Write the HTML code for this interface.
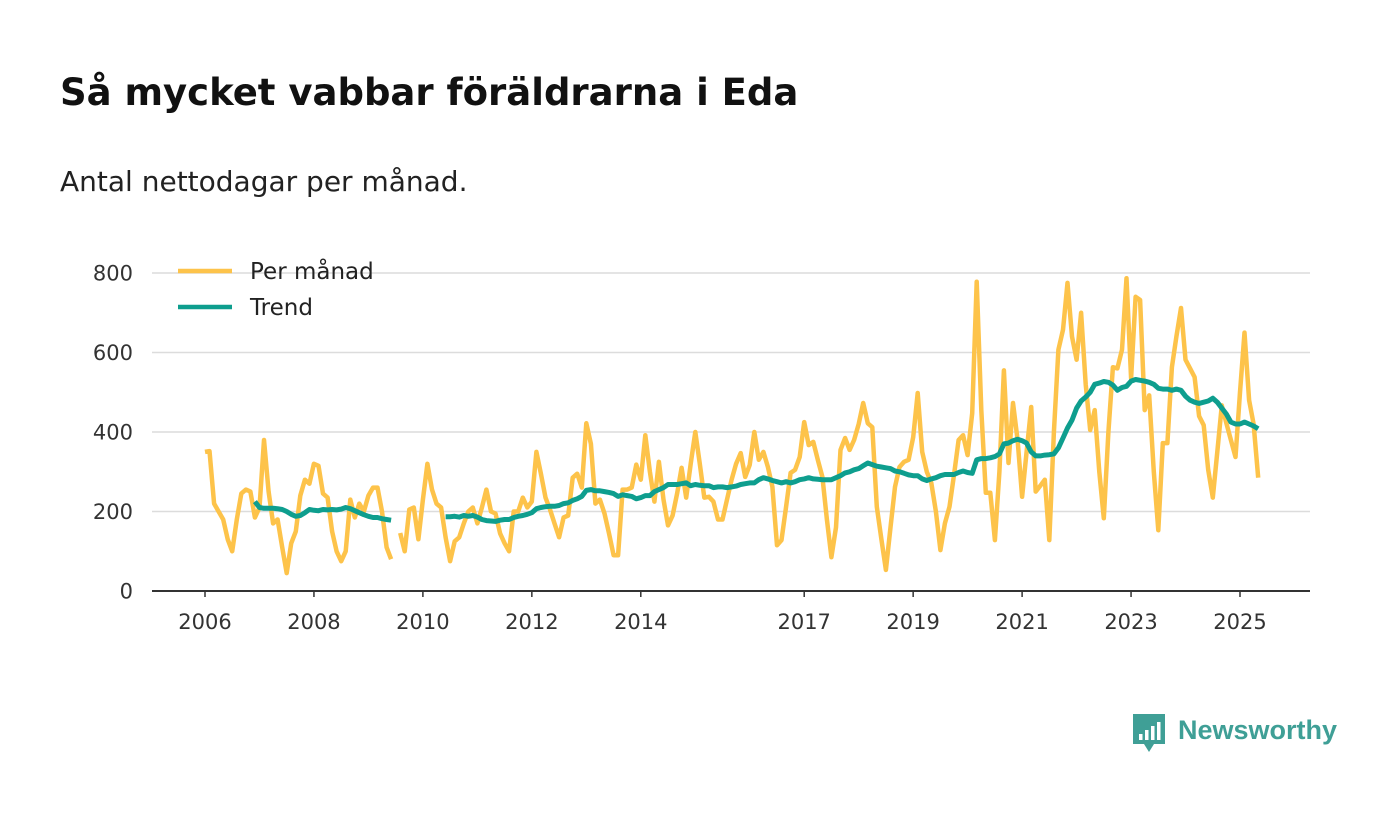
<!DOCTYPE html>
<html><head><meta charset="utf-8">
<style>
body{margin:0;background:#fff;font-family:"DejaVu Sans","Liberation Sans",sans-serif;}
#wrap{position:relative;width:1400px;height:813px;overflow:hidden;}
h1{position:absolute;left:60px;top:71px;margin:0;font-size:37px;font-weight:bold;color:#111;}
.sub{position:absolute;left:60px;top:165px;font-size:28px;color:#222;}
svg{position:absolute;left:0;top:0;font-family:"DejaVu Sans","Liberation Sans",sans-serif;}
</style></head><body>
<div id="wrap">
<h1>Så mycket vabbar föräldrarna i Eda</h1>
<div class="sub">Antal nettodagar per månad.</div>
<svg id="chart" width="1400" height="813"></svg>
</div>
<script>
const yTicks=[0,200,400,600,800];
const xTickYears=[2006,2008,2010,2012,2014,2017,2019,2021,2023,2025];
const monthly=[350,352,220,200,180,130,100,180,245,255,250,185,
210,380,250,170,180,110,45,120,150,240,280,270,
320,315,245,235,150,100,75,100,230,185,220,200,
240,260,260,200,110,80,null,146,100,205,210,130,
230,320,255,220,210,135,75,125,135,170,200,210,
170,210,255,200,195,145,120,100,200,200,235,210,
225,350,295,235,205,170,135,185,190,285,295,260,
422,370,220,230,195,145,90,90,255,255,260,318,
280,392,300,225,325,230,165,190,245,310,235,320,
400,320,235,237,225,180,180,230,280,320,347,287,
317,400,330,350,312,262,115,128,212,297,305,337,
425,367,375,330,287,180,85,160,355,385,355,380,
420,473,422,412,212,130,53,160,262,312,325,330,
387,498,350,300,272,200,103,170,212,292,380,392,
342,447,778,455,247,247,128,300,555,322,473,380,
237,350,463,250,265,280,128,400,607,657,775,640,
582,700,520,405,455,300,183,400,563,560,607,787,
535,740,732,455,492,300,153,372,372,563,640,712,
582,560,538,440,417,305,235,350,467,422,380,337,
500,650,480,420,285];
const trendStart=11;
const trend=[225,210,208,208,208,207,205,200,193,188,190,197,205,203,202,205,204,205,204,206,210,207,202,197,192,188,185,185,182,180,178,
null,null,null,null,null,null,null,null,null,null,null,
187,187,188,186,190,188,190,186,180,177,176,175,178,180,180,185,188,190,193,197,207,210,212,213,213,215,220,222,228,232,238,253,255,252,252,250,248,245,238,242,240,238,232,235,240,240,250,255,260,268,268,268,270,272,265,268,266,265,265,260,262,262,260,262,264,268,270,272,272,280,285,282,278,275,272,275,272,275,280,282,285,282,281,280,280,280,285,290,297,300,305,308,315,322,318,314,312,310,308,302,300,296,292,290,290,282,278,282,285,290,293,293,293,298,302,298,296,330,333,333,335,338,345,370,372,378,382,378,372,350,340,340,342,343,
345,360,385,410,430,460,478,488,500,520,523,527,525,518,505,512,515,528,532,530,528,525,520,510,508,508,505,508,505,490,480,475,472,475,478,485,475,460,445,425,420,420,425,420,415,408];

const NS='http://www.w3.org/2000/svg';
const svg=document.getElementById('chart');
const X0=152,X1=1310,Y0=591,Y800=273;
const yS=v=>Y0-(v/800)*(Y0-Y800);
const xYear=y=>205+(y-2006)*(1240-205)/19;
const xIdx=i=>xYear(2006+i/12);
function mk(tag,attrs){const e=document.createElementNS(NS,tag);for(const k in attrs)e.setAttribute(k,attrs[k]);svg.appendChild(e);return e;}
yTicks.forEach(t=>{
  const g=mk('line',{x1:X0,x2:X1,y1:yS(t),y2:yS(t),stroke:t===0?'#333':'#dcdcdc','stroke-width':t===0?2:1.5});
  
  
  const tx=mk('text',{x:133,y:yS(t)+7.5,'text-anchor':'end','font-size':21,fill:'#333'});
  tx.textContent=t;
  
  
});
xTickYears.forEach(yr=>{
  const x=xYear(yr);
  const tk=mk('line',{x1:x,x2:x,y1:Y0,y2:Y0+6,stroke:'#333','stroke-width':1.5});
  
  
  const tx=mk('text',{x:x,y:629,'text-anchor':'middle','font-size':21,fill:'#333'});
  tx.textContent=yr;
  
  
});
function pathFrom(arr,offset){let d='',pen=false;arr.forEach((v,i)=>{if(v==null){pen=false;return;}d+=(pen?'L':'M')+xIdx(i+offset).toFixed(1)+','+yS(v).toFixed(1);pen=true;});return d;}
const pm=mk('path',{d:pathFrom(monthly,0),fill:'none',stroke:'#fdc34a','stroke-width':4.5,'stroke-linejoin':'round'});


const tr=mk('path',{d:pathFrom(trend,trendStart),fill:'none',stroke:'#0e9e8e','stroke-width':5,'stroke-linejoin':'round'});


[['Per månad','#fdc34a',271],['Trend','#0e9e8e',307]].forEach(([lab,c,y])=>{
  const l=mk('line',{x1:178,x2:232,y1:y,y2:y,stroke:c,'stroke-width':4.5});
  
  
  const t=mk('text',{x:250,y:y+8,'font-size':23,fill:'#222'});
  t.textContent=lab;
  
  
});
const lg=mk('path',{d:'M1133,714 h32 v30 h-11 l-5,8 l-5,-8 h-11 z',fill:'#3f9f96'});


[[1139,734],[1145,730],[1151,726],[1157,722]].forEach(([x,y])=>{
  const b=mk('rect',{x:x,y:y,width:3.5,height:740-y,fill:'#fff'});
  
  
});
const lt=mk('text',{x:1178,y:739,'font-size':27,'font-weight':'bold',fill:'#3f9f96',style:'font-family:"Liberation Sans",sans-serif'});
lt.textContent='Newsworthy';


</script>
</body></html>
